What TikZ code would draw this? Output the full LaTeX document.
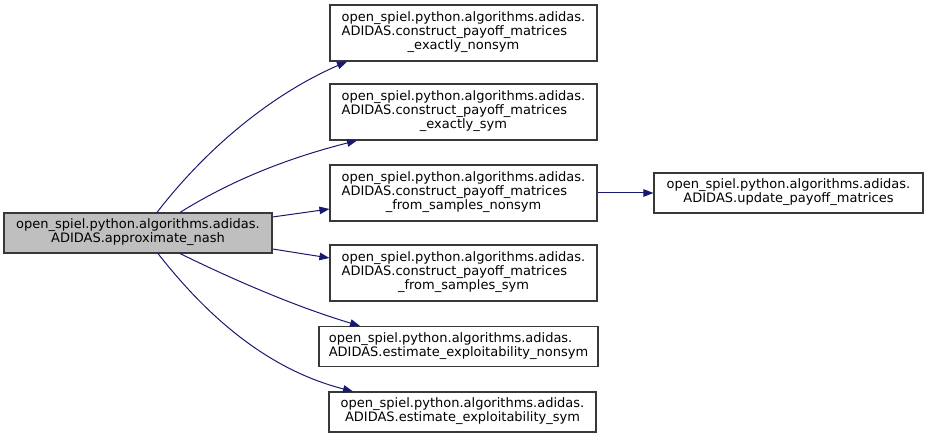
\documentclass[tikz,border=0pt]{standalone}
\usepackage{fontspec}
\setmainfont{DejaVu Sans}
\usetikzlibrary{arrows.meta, positioning, calc}
\usepackage{xcolor}
\definecolor{edgeblue}{RGB}{25, 25, 112}
\definecolor{nodeborder}{RGB}{56, 56, 56}
\definecolor{rootgray}{RGB}{191, 191, 191}

% label lines: first lines left, last line centred
\newcommand{\twolines}[2]{\begin{tabular}{@{}l@{}}#1\\\multicolumn{1}{@{}c@{}}{#2}\end{tabular}}
\newcommand{\threelines}[3]{\begin{tabular}{@{}l@{}}#1\\#2\\\multicolumn{1}{@{}c@{}}{#3}\end{tabular}}

\tikzset{
  fnode/.style={draw=nodeborder, fill=white, line width=1.1pt, inner sep=0pt,
    minimum width=267pt, minimum height=56pt, font=\fontsize{13}{14}\selectfont},
  shortnode/.style={fnode, minimum height=40pt},
  rootnode/.style={shortnode, fill=rootgray, minimum width=268pt},
  call/.style={draw=edgeblue, line width=1pt, -{Triangle[length=10pt, width=7.5pt]}}
}

\begin{document}
\begin{tikzpicture}[x=1pt, y=-1pt]
  \useasboundingbox (0,0) rectangle (927,438);

  % caller
  \node[rootnode] (approx) at (138,233)
    {\twolines{open\_spiel.python.algorithms.adidas.}{ADIDAS.approximate\_nash}};

  % callees
  \node[fnode] (exnonsym) at (463.5,33)
    {\threelines{open\_spiel.python.algorithms.adidas.}{ADIDAS.construct\_payoff\_matrices}{\_exactly\_nonsym}};
  \node[fnode] (exsym) at (463.5,112)
    {\threelines{open\_spiel.python.algorithms.adidas.}{ADIDAS.construct\_payoff\_matrices}{\_exactly\_sym}};
  \node[fnode] (smpnonsym) at (463.5,193)
    {\threelines{open\_spiel.python.algorithms.adidas.}{ADIDAS.construct\_payoff\_matrices}{\_from\_samples\_nonsym}};
  \node[fnode] (smpsym) at (463.5,273)
    {\threelines{open\_spiel.python.algorithms.adidas.}{ADIDAS.construct\_payoff\_matrices}{\_from\_samples\_sym}};
  \node[shortnode, minimum width=279pt] (estnonsym) at (458.5,346.5)
    {\twolines{open\_spiel.python.algorithms.adidas.}{ADIDAS.estimate\_exploitability\_nonsym}};
  \node[shortnode] (estsym) at (462.5,412)
    {\twolines{open\_spiel.python.algorithms.adidas.}{ADIDAS.estimate\_exploitability\_sym}};
  \node[shortnode, minimum width=269pt] (update) at (788.5,193)
    {\twolines{open\_spiel.python.algorithms.adidas.}{ADIDAS.update\_payoff\_matrices}};

  % calls
  \draw[call] ([xshift=19pt]approx.north) .. controls (205,150) and (270,95) .. ([xshift=-116.5pt]exnonsym.south);
  \draw[call] ([xshift=42pt]approx.north) .. controls (240,175) and (300,155) .. ([xshift=-106.5pt]exsym.south);
  \draw[call] ([yshift=16pt]approx.east) -- ([yshift=-16pt]smpnonsym.west);
  \draw[call] ([yshift=-16pt]approx.east) -- ([yshift=15pt]smpsym.west);
  \draw[call] ([xshift=42pt]approx.south) .. controls (240,283) and (300,308) .. ([xshift=-98.5pt]estnonsym.north);
  \draw[call] ([xshift=20pt]approx.south) .. controls (210,320) and (270,370) .. ([xshift=-109.5pt]estsym.north);
  \draw[call] (smpnonsym.east) -- (update.west);
\end{tikzpicture}
\end{document}
